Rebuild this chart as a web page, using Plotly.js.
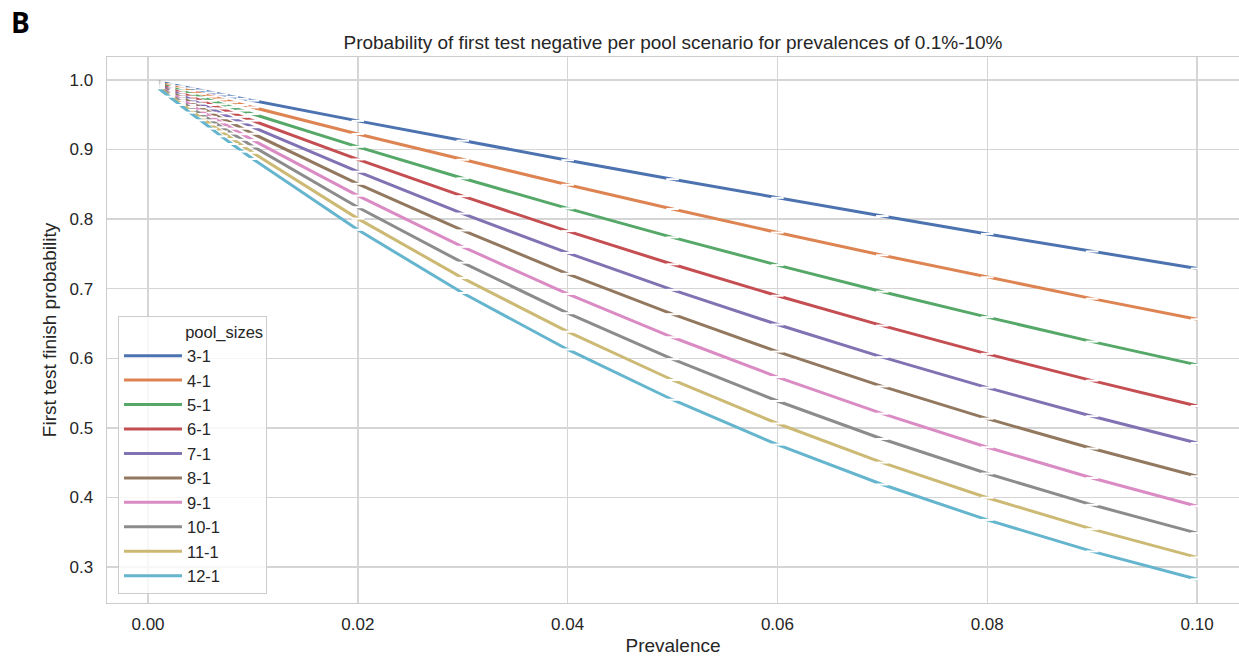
<!DOCTYPE html>
<html>
<head>
<meta charset="utf-8">
<script src="https://cdn.plot.ly/plotly-3.0.1.min.js"></script>
<style>html,body{margin:0;padding:0;background:#fff;}</style>
</head>
<body>
<div id="chart" style="width:1239px;height:656px;"></div>
<script>
// Prevalence values (x)
const prevalence = [0.001,0.002,0.003,0.004,0.005,0.006,0.007,0.008,0.009,0.01,
                    0.02,0.03,0.04,0.05,0.06,0.07,0.08,0.09,0.10];
const seriesNames = ["3-1","4-1","5-1","6-1","7-1","8-1","9-1","10-1","11-1","12-1"];
// First test finish probability per pool scenario
const p3  = [0.997,0.994,0.991,0.988,0.985,0.982,0.979,0.976,0.973,0.9703,0.9412,0.9127,0.8847,0.8574,0.8306,0.8044,0.7787,0.7536,0.7290];
const p4  = [0.996,0.992,0.988,0.984,0.980,0.976,0.972,0.968,0.964,0.9606,0.9224,0.8853,0.8493,0.8145,0.7807,0.7481,0.7164,0.6857,0.6561];
const p5  = [0.995,0.990,0.985,0.980,0.975,0.970,0.965,0.961,0.956,0.9510,0.9039,0.8587,0.8154,0.7738,0.7339,0.6957,0.6591,0.6240,0.5905];
const p6  = [0.994,0.988,0.982,0.976,0.970,0.964,0.959,0.953,0.947,0.9415,0.8858,0.8330,0.7828,0.7351,0.6899,0.6470,0.6064,0.5679,0.5314];
const p7  = [0.993,0.986,0.979,0.972,0.966,0.959,0.952,0.945,0.939,0.9321,0.8681,0.8080,0.7514,0.6983,0.6485,0.6017,0.5578,0.5168,0.4783];
const p8  = [0.992,0.984,0.976,0.968,0.961,0.953,0.945,0.938,0.930,0.9227,0.8508,0.7837,0.7214,0.6634,0.6096,0.5596,0.5132,0.4703,0.4305];
const p9  = [0.991,0.982,0.973,0.964,0.956,0.947,0.939,0.930,0.922,0.9135,0.8337,0.7602,0.6925,0.6302,0.5730,0.5204,0.4722,0.4279,0.3874];
const p10 = [0.990,0.980,0.970,0.961,0.951,0.942,0.932,0.923,0.914,0.9044,0.8171,0.7374,0.6648,0.5987,0.5386,0.4840,0.4344,0.3894,0.3487];
const p11 = [0.989,0.978,0.967,0.957,0.946,0.936,0.926,0.915,0.905,0.8953,0.8007,0.7153,0.6382,0.5688,0.5063,0.4501,0.3996,0.3544,0.3138];
const p12 = [0.988,0.976,0.964,0.953,0.942,0.930,0.919,0.908,0.897,0.8864,0.7847,0.6938,0.6127,0.5404,0.4759,0.4186,0.3677,0.3225,0.2824];
const seriesValues = [p3,p4,p5,p6,p7,p8,p9,p10,p11,p12];
const colors = ["#4c72b0","#dd8452","#55a868","#c44e52","#8172b3","#937860","#da8bc3","#8c8c8c","#ccb974","#64b5cd"];

const FONT = "Liberation Sans, Arial, sans-serif";
const traces = [];
seriesValues.forEach((vals, i) => {
  traces.push({
    type: "scatter", mode: "lines", x: prevalence, y: vals,
    name: seriesNames[i], legendgroup: seriesNames[i],
    line: {color: colors[i], width: 3}
  });
  traces.push({
    type: "scatter", mode: "markers", x: prevalence, y: vals,
    name: seriesNames[i], legendgroup: seriesNames[i], showlegend: false,
    marker: {symbol: "line-ew-open", size: 9, color: "white", line: {color: "white", width: 2}}
  });
});

const layout = {
  width: 1239, height: 656,
  margin: {l: 107, r: 0, t: 57, b: 53},
  paper_bgcolor: "#ffffff",
  plot_bgcolor: "#ffffff",
  font: {family: FONT, size: 17, color: "#262626"},
  title: {
    text: "Probability of first test negative per pool scenario for prevalences of 0.1%-10%",
    font: {family: FONT, size: 19, color: "#262626"},
    x: 0.5, xref: "paper", xanchor: "center", y: 1 - 42/656, yref: "container", yanchor: "middle"
  },
  xaxis: {
    range: [-0.00391, 0.10400],
    tickvals: [0, 0.02, 0.04, 0.06, 0.08, 0.10],
    ticktext: ["0.00","0.02","0.04","0.06","0.08","0.10"],
    showgrid: true, gridcolor: "#d5d5d5", gridwidth: 1.4,
    showline: true, linecolor: "#cccccc", linewidth: 1.4, mirror: true,
    zeroline: false, ticks: "", ticklen: 0, ticklabelstandoff: 5,
    tickfont: {family: FONT, size: 17, color: "#262626"},
    title: {text: "Prevalence", font: {family: FONT, size: 19, color: "#262626"}, standoff: 9}
  },
  yaxis: {
    range: [0.2483, 1.0330],
    tickvals: [0.3,0.4,0.5,0.6,0.7,0.8,0.9,1.0],
    ticktext: ["0.3","0.4","0.5","0.6","0.7","0.8","0.9","1.0"],
    showgrid: true, gridcolor: "#d5d5d5", gridwidth: 1.4,
    showline: true, linecolor: "#cccccc", linewidth: 1.4,
    zeroline: false, ticks: "", ticklen: 0, ticklabelstandoff: 9,
    tickfont: {family: FONT, size: 17, color: "#262626"},
    title: {text: "First test finish probability", font: {family: FONT, size: 19, color: "#262626"}, standoff: 8}
  },
  showlegend: true,
  legend: {
    x: 0.0097, y: 0.0165, xanchor: "left", yanchor: "bottom",
    bgcolor: "rgba(255,255,255,0.8)", bordercolor: "#cccccc", borderwidth: 1,
    font: {family: FONT, size: 16.5, color: "#262626"},
    title: {text: "              pool_sizes", font: {family: FONT, size: 16.5, color: "#262626"}},
    itemwidth: 58, tracegroupgap: 0
  },
  annotations: [{
    text: "<b>B</b>", xref: "paper", yref: "paper",
    x: -107/1132 + 9/1132, y: 1 + (57-22)/546, xanchor: "left", yanchor: "middle",
    showarrow: false, font: {family: "Open Sans, DejaVu Sans, sans-serif", size: 28, color: "#000"}
  }]
};

Plotly.newPlot("chart", traces, layout, {displayModeBar: false, staticPlot: true});
</script>
</body>
</html>
